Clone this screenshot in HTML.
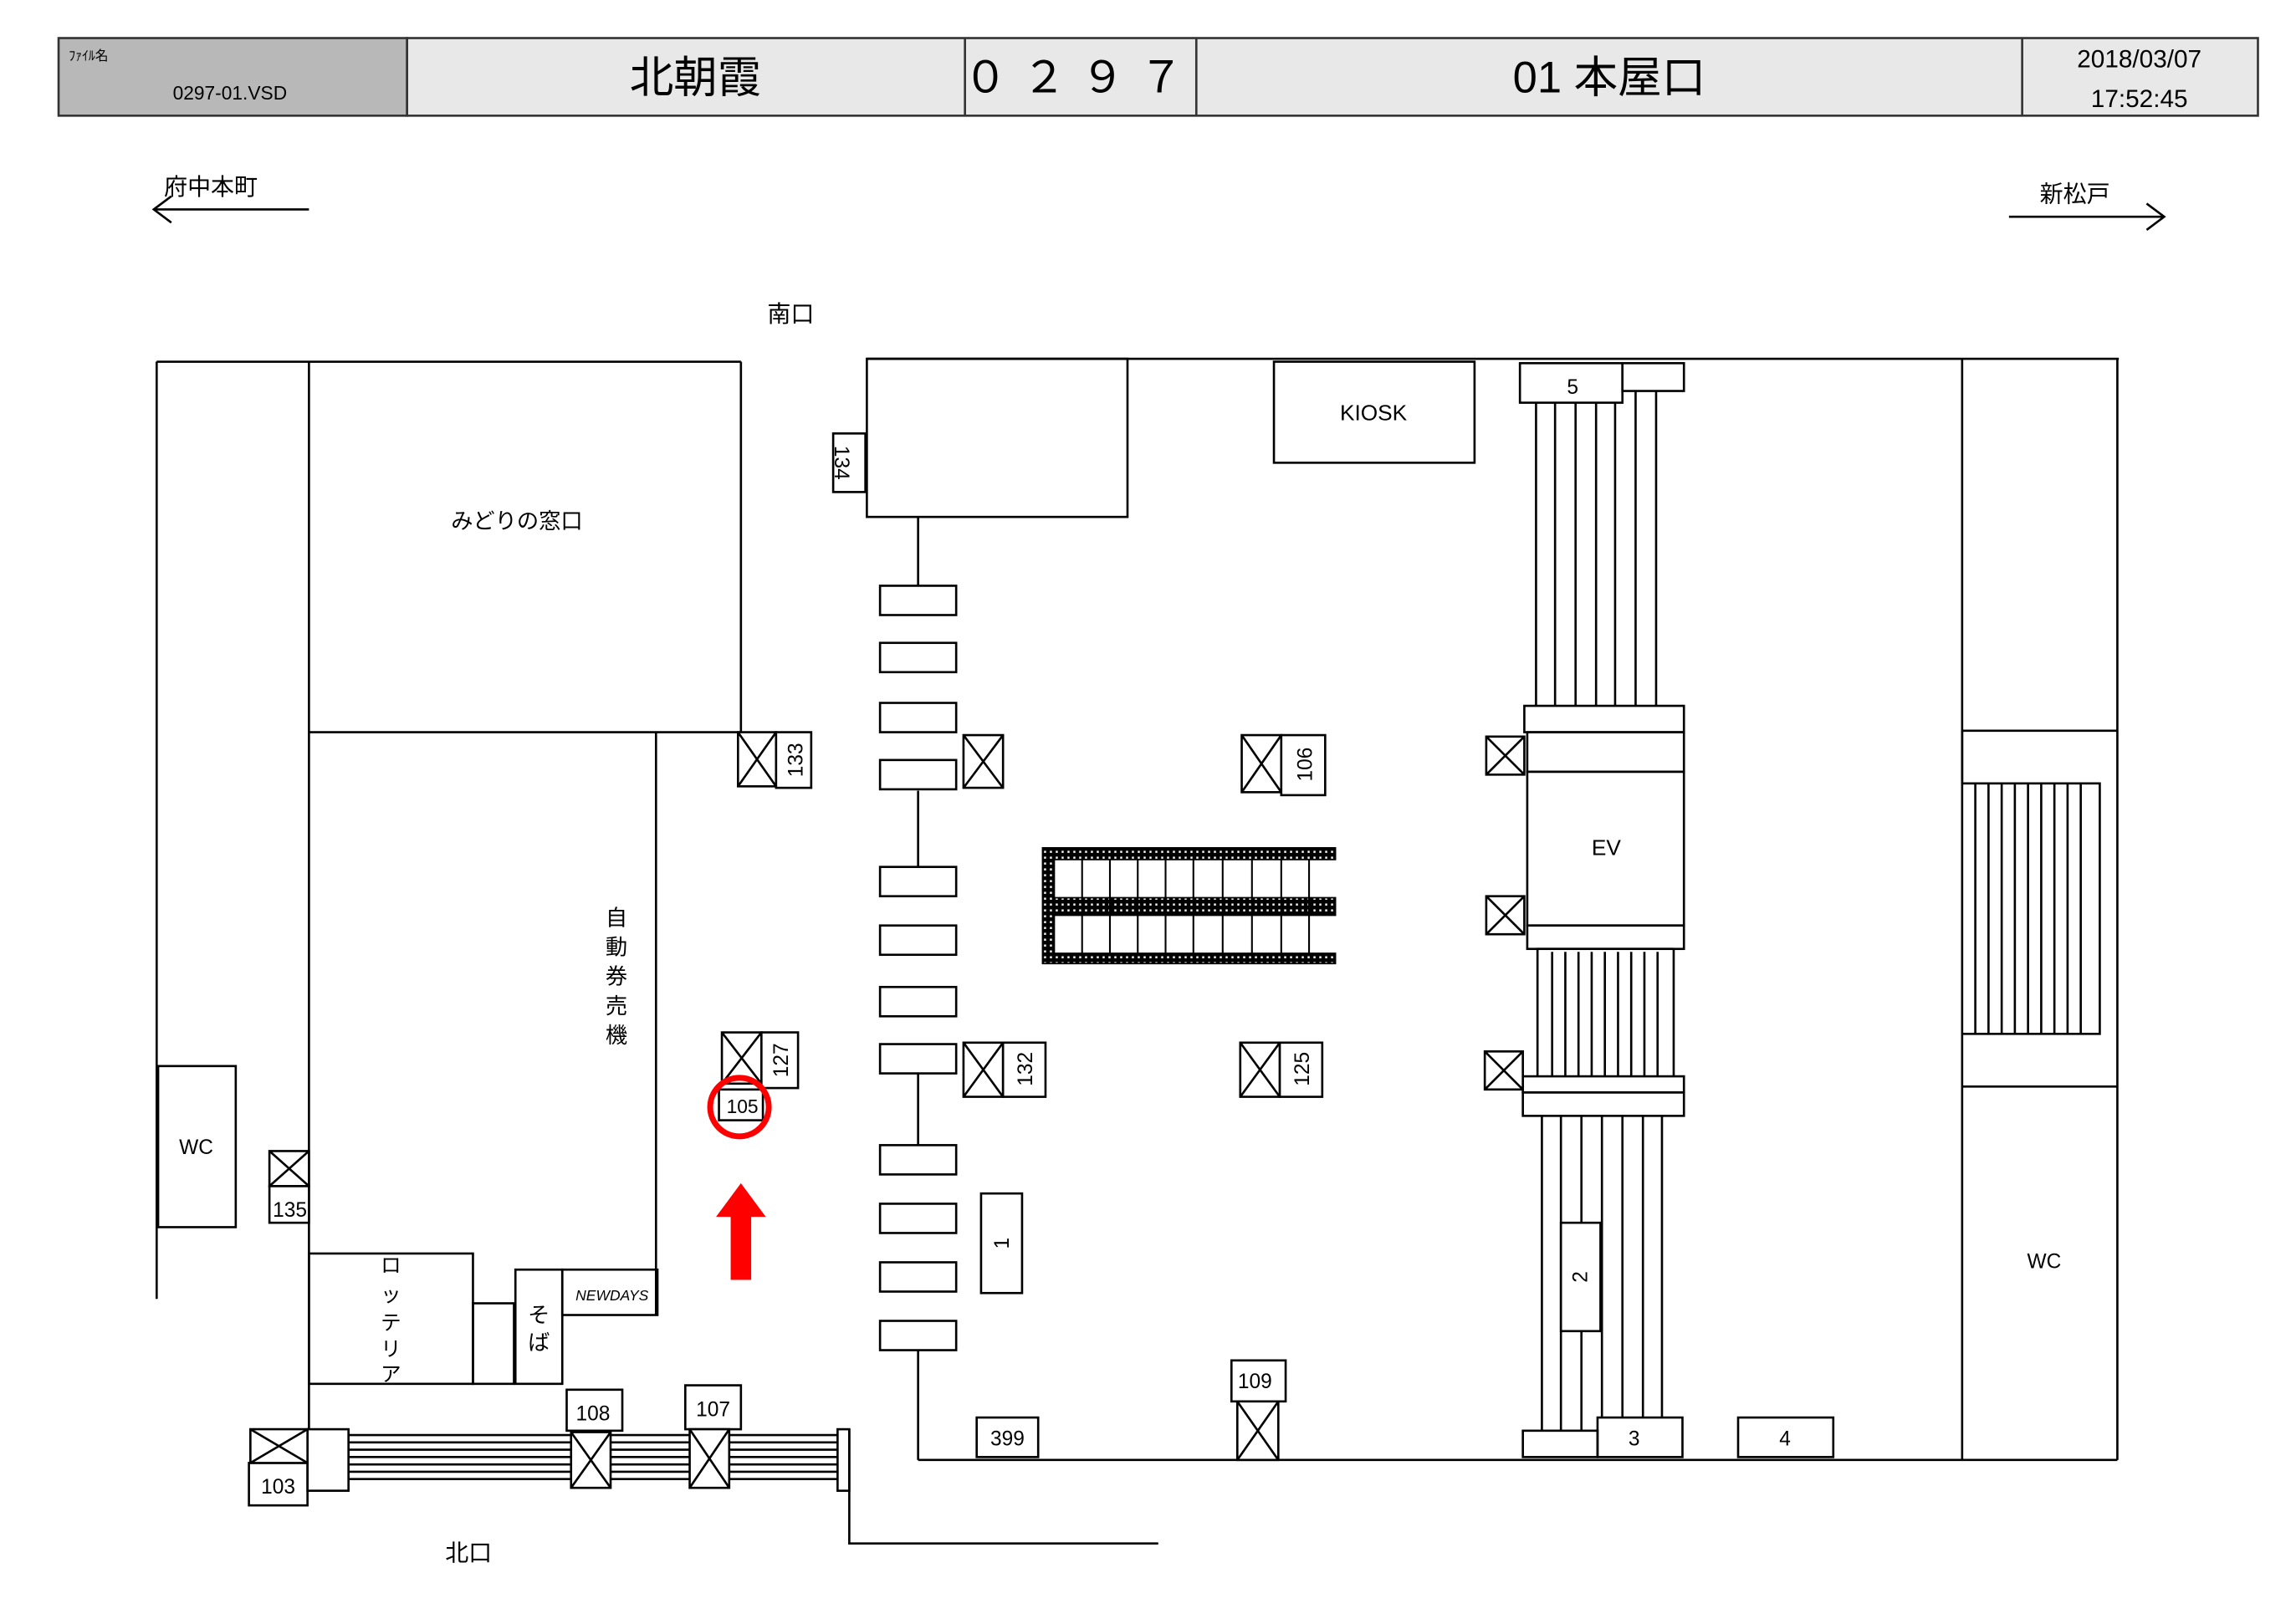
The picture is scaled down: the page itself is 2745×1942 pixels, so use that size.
<!DOCTYPE html>
<html><head><meta charset="utf-8"><style>
html,body{margin:0;padding:0;background:#fff;}
svg{display:block;}
text{font-family:"Liberation Sans","Noto Sans CJK JP",sans-serif;fill:#000;}
</style></head><body>
<svg width="2745" height="1942" viewBox="0 0 1568 1109" preserveAspectRatio="none" xmlns="http://www.w3.org/2000/svg">
<defs>
<pattern id="dots" width="4" height="4" patternUnits="userSpaceOnUse">
<rect width="4" height="4" fill="#000"/><rect x="1" y="1" width="1.4" height="1.4" fill="#fff"/>
</pattern>
</defs>
<!-- header -->
<rect x="40" y="26" width="238" height="53" fill="#b8b8b8" stroke="#333" stroke-width="1.5"/>
<rect x="278" y="26" width="1264" height="53" fill="#e8e8e8" stroke="#333" stroke-width="1.5"/>
<g stroke="#333" stroke-width="1.5"><line x1="659" y1="26" x2="659" y2="79"/><line x1="817" y1="26" x2="817" y2="79"/><line x1="1381" y1="26" x2="1381" y2="79"/></g>
<text x="47" y="41" font-size="9">ﾌｧｲﾙ名</text>
<text x="118" y="68" font-size="13">0297-01.VSD</text>
<text x="475" y="63" font-size="30" text-anchor="middle">北朝霞</text>
<text x="738" y="63" font-size="30" text-anchor="middle" letter-spacing="10">０２９７</text>
<text x="1099" y="63" font-size="30" text-anchor="middle">01 本屋口</text>
<text x="1461" y="46" font-size="17" text-anchor="middle">2018/03/07</text>
<text x="1461" y="73" font-size="17" text-anchor="middle">17:52:45</text>

<g stroke="#000" stroke-width="1.5" fill="none">
<line x1="105" y1="143" x2="211" y2="143"/><polyline points="117,134 105,143 117,152"/>
<line x1="1372" y1="148" x2="1478" y2="148"/><polyline points="1466,139 1478,148 1466,157"/>

<line x1="107" y1="247" x2="506" y2="247"/>
<line x1="107" y1="247" x2="107" y2="887"/>
<line x1="211" y1="247" x2="211" y2="976"/>
<line x1="506" y1="247" x2="506" y2="500"/>
<line x1="211" y1="500" x2="506" y2="500"/>
<line x1="448" y1="500" x2="448" y2="898"/>
<rect x="108" y="728" width="53" height="110"/>
<rect x="211" y="856" width="112" height="89"/>
<rect x="323" y="890" width="28" height="55"/>
<rect x="352" y="867" width="32" height="78"/>
<rect x="384" y="867" width="65" height="31"/>

<line x1="592" y1="245" x2="1447" y2="245"/>
<rect x="592" y="245" width="178" height="108"/>
<rect x="569" y="296" width="22" height="40"/>
<line x1="627" y1="353" x2="627" y2="400"/>
<line x1="627" y1="540" x2="627" y2="592"/>
<line x1="627" y1="733" x2="627" y2="782"/>
<line x1="627" y1="922" x2="627" y2="997"/>
<line x1="627" y1="997" x2="1446" y2="997"/>
<rect x="601" y="400" width="52" height="20"/>
<rect x="601" y="439" width="52" height="20"/>
<rect x="601" y="480" width="52" height="20"/>
<rect x="601" y="519" width="52" height="20"/>
<rect x="601" y="592" width="52" height="20"/>
<rect x="601" y="632" width="52" height="20"/>
<rect x="601" y="674" width="52" height="20"/>
<rect x="601" y="713" width="52" height="20"/>
<rect x="601" y="782" width="52" height="20"/>
<rect x="601" y="822" width="52" height="20"/>
<rect x="601" y="862" width="52" height="20"/>
<rect x="601" y="902" width="52" height="20"/>
<rect x="870" y="247" width="137" height="69"/>
<rect x="670" y="815" width="28" height="68"/>
<rect x="667" y="968" width="42" height="27"/>

<rect x="1038" y="248" width="70" height="27"/>
<rect x="1108" y="248" width="42" height="19"/>
<line x1="1049" y1="275" x2="1049" y2="482"/><line x1="1062" y1="275" x2="1062" y2="482"/><line x1="1076" y1="275" x2="1076" y2="482"/><line x1="1090" y1="275" x2="1090" y2="482"/><line x1="1103" y1="275" x2="1103" y2="482"/><line x1="1117" y1="267" x2="1117" y2="482"/><line x1="1131" y1="267" x2="1131" y2="482"/>
<rect x="1041" y="482" width="109" height="18"/>
<rect x="1043" y="500" width="107" height="27"/>
<rect x="1043" y="527" width="107" height="105"/>
<rect x="1043" y="632" width="107" height="16"/>
<path d="M1050 735 V648 H1143"/>
<line x1="1060" y1="650" x2="1060" y2="735"/><line x1="1069" y1="650" x2="1069" y2="735"/><line x1="1078" y1="650" x2="1078" y2="735"/><line x1="1087" y1="650" x2="1087" y2="735"/><line x1="1096" y1="650" x2="1096" y2="735"/><line x1="1105" y1="650" x2="1105" y2="735"/><line x1="1114" y1="650" x2="1114" y2="735"/><line x1="1123" y1="650" x2="1123" y2="735"/><line x1="1132" y1="650" x2="1132" y2="735"/><line x1="1143" y1="648" x2="1143" y2="735"/>
<rect x="1040" y="735" width="110" height="11"/>
<rect x="1040" y="746" width="110" height="16"/>
<line x1="1053" y1="762" x2="1053" y2="977"/><line x1="1066" y1="762" x2="1066" y2="977"/><line x1="1080" y1="762" x2="1080" y2="977"/><line x1="1094" y1="762" x2="1094" y2="968"/><line x1="1108" y1="762" x2="1108" y2="968"/><line x1="1122" y1="762" x2="1122" y2="968"/><line x1="1135" y1="762" x2="1135" y2="968"/>
<rect x="1066" y="835" width="27" height="74" fill="#fff"/>
<rect x="1040" y="977" width="51" height="18"/>
<rect x="1091" y="968" width="58" height="27"/>
<rect x="1187" y="968" width="65" height="27"/>

<line x1="1340" y1="245" x2="1340" y2="997"/>
<line x1="1446" y1="245" x2="1446" y2="997"/>
<path d="M1340 499 H1446"/>
<path d="M1340 535 V499 M1340 535 H1434 V706 H1340 M1340 742 H1446"/>
<line x1="1349" y1="535" x2="1349" y2="706"/><line x1="1358" y1="535" x2="1358" y2="706"/><line x1="1367" y1="535" x2="1367" y2="706"/><line x1="1376" y1="535" x2="1376" y2="706"/><line x1="1385" y1="535" x2="1385" y2="706"/><line x1="1394" y1="535" x2="1394" y2="706"/><line x1="1403" y1="535" x2="1403" y2="706"/><line x1="1412" y1="535" x2="1412" y2="706"/><line x1="1421" y1="535" x2="1421" y2="706"/>

<rect x="210" y="976" width="28" height="42"/>
<line x1="238" y1="980" x2="572" y2="980"/><line x1="238" y1="985" x2="572" y2="985"/><line x1="238" y1="990" x2="572" y2="990"/><line x1="238" y1="995" x2="572" y2="995"/><line x1="238" y1="1000" x2="572" y2="1000"/><line x1="238" y1="1005" x2="572" y2="1005"/><line x1="238" y1="1010" x2="572" y2="1010"/>
<rect x="572" y="976" width="8" height="42" fill="#fff"/>
<path d="M580 976 V1054 H791"/>
<rect x="170" y="999" width="40" height="29"/>
<rect x="387" y="949" width="38" height="28"/>
<rect x="468" y="946" width="38" height="30"/>
<rect x="841" y="929" width="37" height="28"/>
</g>

<g stroke="#000" stroke-width="1.5" fill="#fff">
<path d="M504 500h26v37h-26z M504 500l26 37 M530 500l-26 37"/>
<path d="M658 502h27v36h-27z M658 502l27 36 M685 502l-27 36"/>
<path d="M848 502h27v39h-27z M848 502l27 39 M875 502l-27 39"/>
<path d="M1015 503h26v26h-26z M1015 503l26 26 M1041 503l-26 26"/>
<path d="M1015 612h26v26h-26z M1015 612l26 26 M1041 612l-26 26"/>
<path d="M1014 718h26v26h-26z M1014 718l26 26 M1040 718l-26 26"/>
<path d="M493 705h27v35h-27z M493 705l27 35 M520 705l-27 35"/>
<path d="M658 712h27v37h-27z M658 712l27 37 M685 712l-27 37"/>
<path d="M847 712h27v37h-27z M847 712l27 37 M874 712l-27 37"/>
<path d="M184 786h27v24h-27z M184 786l27 24 M211 786l-27 24"/>
<path d="M845 957h28v40h-28z M845 957l28 40 M873 957l-28 40"/>
<path d="M171 976h39v23h-39z M171 976l39 23 M210 976l-39 23"/>
<path d="M390 978h27v38h-27z M390 978l27 38 M417 978l-27 38"/>
<path d="M471 976h27v40h-27z M471 976l27 40 M498 976l-27 40"/>
<rect x="530" y="500" width="24" height="38"/>
<rect x="875" y="502" width="30" height="41"/>
<rect x="520" y="705" width="25" height="38"/>
<rect x="685" y="712" width="29" height="37"/>
<rect x="874" y="712" width="29" height="37"/>
<rect x="184" y="810" width="27" height="25"/>
<rect x="491" y="744" width="30" height="21"/>
</g>

<path d="M712 579 H912 V587 H720 V613 H912 V625 H720 V651 H912 V658 H712 Z" fill="url(#dots)" stroke="#000" stroke-width="1"/>
<g stroke="#000" stroke-width="1.2">
<line x1="739" y1="587" x2="739" y2="651"/><line x1="758" y1="587" x2="758" y2="651"/><line x1="777" y1="587" x2="777" y2="651"/><line x1="796" y1="587" x2="796" y2="651"/><line x1="815" y1="587" x2="815" y2="651"/><line x1="835" y1="587" x2="835" y2="651"/><line x1="855" y1="587" x2="855" y2="651"/><line x1="875" y1="587" x2="875" y2="651"/><line x1="894" y1="587" x2="894" y2="651"/>
</g>

<circle cx="505" cy="756" r="20" fill="none" stroke="#f00" stroke-width="4"/>
<rect x="499" y="830" width="14" height="44" fill="#f00"/>
<polygon points="489,831 523,831 506,808" fill="#f00"/>

<g font-size="16">
<text x="112" y="133">府中本町</text>
<text x="1393" y="138">新松戸</text>
<text x="524" y="220">南口</text>
<text x="304" y="1066">北口</text>
<text x="308" y="361" font-size="15">みどりの窓口</text>
</g>
<g font-size="14" text-anchor="middle">
<text x="938" y="287" font-size="15">KIOSK</text>
<text x="1097" y="584" font-size="15">EV</text>
<text x="134" y="788">WC</text>
<text x="1396" y="866">WC</text>
<text x="1074" y="269">5</text>
<text x="1116" y="987">3</text>
<text x="1219" y="987">4</text>
<text x="688" y="987">399</text>
<text x="857" y="948">109</text>
<text x="405" y="970">108</text>
<text x="487" y="967">107</text>
<text x="190" y="1020">103</text>
<text x="198" y="831">135</text>
<text x="507" y="760" font-size="13">105</text>
<text x="418" y="888" font-size="10" font-style="italic">NEWDAYS</text>
</g>
<g font-size="14">
<text transform="translate(575,316) rotate(90)" text-anchor="middle" dy="5">134</text>
<text transform="translate(543,519) rotate(-90)" text-anchor="middle" dy="5">133</text>
<text transform="translate(891,522) rotate(-90)" text-anchor="middle" dy="5">106</text>
<text transform="translate(533,724) rotate(-90)" text-anchor="middle" dy="5">127</text>
<text transform="translate(700,730) rotate(-90)" text-anchor="middle" dy="5">132</text>
<text transform="translate(889,730) rotate(-90)" text-anchor="middle" dy="5">125</text>
<text transform="translate(684,849) rotate(-90)" text-anchor="middle" dy="5">1</text>
<text transform="translate(1079,872) rotate(-90)" text-anchor="middle" dy="5">2</text>
</g>
<g font-size="15" text-anchor="middle">
<text x="421" y="632">自</text><text x="421" y="652">動</text><text x="421" y="672">券</text><text x="421" y="692">売</text><text x="421" y="712">機</text>
</g>
<g font-size="14" text-anchor="middle">
<text x="267" y="869">ロ</text><text x="267" y="889">ッ</text><text x="267" y="908">テ</text><text x="267" y="926">リ</text><text x="267" y="943">ア</text>
<text x="368" y="903" font-size="15">そ</text><text x="368" y="922" font-size="15">ば</text>
</g>
</svg>
</body></html>
